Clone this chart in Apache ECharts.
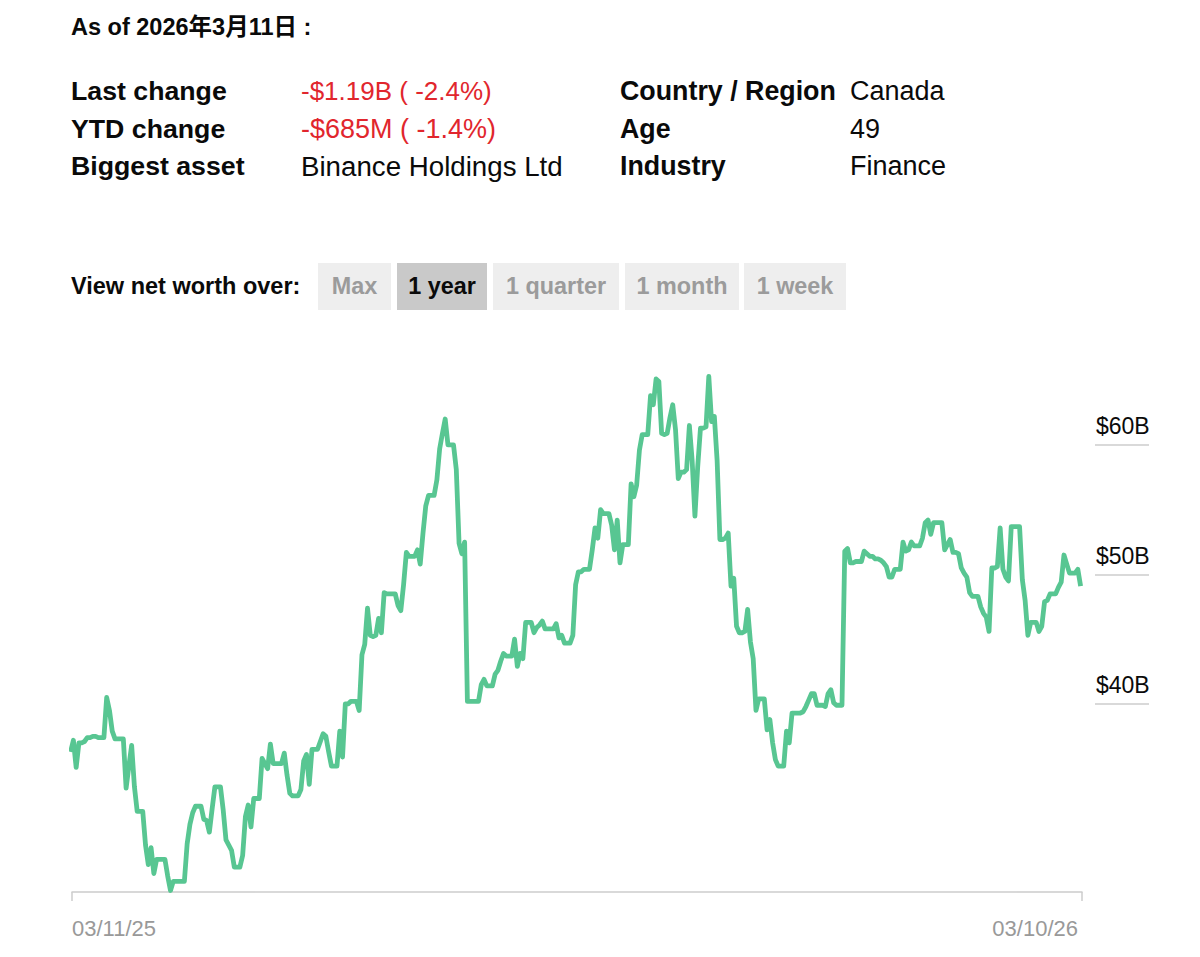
<!DOCTYPE html>
<html>
<head>
<meta charset="utf-8">
<title>Net worth</title>
<style>
html,body{margin:0;padding:0;background:#fff;}
#main{width:1200px;height:957px;}
</style>
<script src="https://cdn.jsdelivr.net/npm/echarts@6/dist/echarts.min.js"></script>
</head>
<body>
<div id="main"></div>
<script>
var asOfText = 'As of 2026年3月11日 :';
var leftLabels = ['Last change', 'YTD change', 'Biggest asset'];
var leftValues = ['-$1.19B ( -2.4%)', '-$685M ( -1.4%)', 'Binance Holdings Ltd'];
var rightLabels = ['Country / Region', 'Age', 'Industry'];
var rightValues = ['Canada', '49', 'Finance'];
var viewLabel = 'View net worth over:';
var rangeLabels = ['Max', '1 year', '1 quarter', '1 month', '1 week'];
var activeRange = '1 year';
var yTicks = [40, 50, 60];
var dateLabels = ['03/11/25', '03/10/26'];
// one value per day, $B
var netWorth = [
    36.3,37.2,35.1,37.0,37.0,37.1,37.4,37.4,37.5,37.5,
    37.4,37.4,37.4,40.5,39.5,37.9,37.3,37.3,37.3,37.3,
    33.5,35.2,36.8,33.6,31.7,31.7,31.7,29.1,27.6,28.9,
    26.9,28.0,28.0,28.0,28.0,26.7,25.6,26.3,26.3,26.3,
    26.3,26.3,29.2,30.7,31.6,32.1,32.1,32.1,31.1,31.0,
    30.1,31.9,33.6,33.6,33.6,31.8,29.5,29.1,28.7,27.4,
    27.4,27.4,28.3,31.3,32.2,30.5,32.7,32.7,32.7,35.8,
    35.4,35.0,36.9,35.4,35.4,35.4,35.4,36.2,34.5,33.1,
    32.9,32.9,32.9,33.4,35.6,36.1,33.8,36.5,36.5,36.5,
    37.1,37.7,37.5,36.3,35.2,35.2,35.2,37.9,35.9,40.0,
    40.0,40.2,40.2,40.2,39.5,43.8,44.6,47.4,45.3,45.2,
    45.3,46.6,45.5,48.6,48.5,48.5,48.5,48.5,47.6,47.2,
    49.2,51.7,51.4,51.4,51.4,51.9,50.8,53.2,55.3,56.1,
    56.1,56.1,57.3,59.7,60.9,62.0,60.0,60.0,60.0,58.1,
    52.4,51.6,52.5,40.2,40.2,40.2,40.2,40.2,41.5,41.9,
    41.4,41.4,41.4,42.3,42.6,43.3,43.9,43.7,43.7,43.7,
    45.0,42.9,43.9,43.5,46.3,46.3,46.3,45.5,45.9,46.1,
    46.4,45.8,45.8,45.8,45.8,46.2,45.1,45.3,44.7,44.7,
    44.7,45.3,49.2,50.2,50.2,50.4,50.4,50.4,51.9,53.6,
    52.8,55.0,54.7,54.7,54.7,53.8,51.9,54.2,50.9,52.3,
    52.3,52.3,57.0,56.0,56.9,59.6,60.8,60.8,60.8,63.8,
    63.1,65.1,64.9,60.9,60.8,60.9,62.1,63.1,61.2,57.4,
    57.9,57.9,58.1,61.5,58.8,54.5,58.3,61.3,61.3,61.4,
    65.3,61.8,62.2,58.8,52.7,52.7,52.8,53.2,49.1,49.7,
    46.0,45.5,45.5,45.6,47.3,44.8,43.5,39.5,40.4,40.4,
    40.4,38.0,38.8,37.0,35.7,35.2,35.2,35.2,37.9,37.0,
    39.3,39.3,39.3,39.3,39.4,39.8,40.3,40.8,40.8,39.9,
    39.9,39.9,39.8,40.8,41.1,40.1,39.9,39.9,39.9,51.8,
    52.0,50.9,50.9,51.0,51.0,51.0,51.8,51.6,51.4,51.4,
    51.2,51.2,51.1,50.9,50.6,49.8,49.8,50.4,50.4,50.4,
    52.5,51.8,51.9,52.5,52.2,52.2,52.2,52.8,54.0,54.2,
    53.1,54.0,54.0,54.0,54.0,51.9,52.3,52.7,51.7,51.7,
    51.6,50.5,50.1,49.8,48.6,48.3,48.3,48.3,47.5,47.0,
    46.7,45.6,50.5,50.5,50.6,53.6,50.4,49.8,49.5,53.7,
    53.7,53.7,53.7,49.6,48.0,45.3,46.3,46.3,46.3,45.6,
    46.0,47.9,48.0,48.5,48.5,48.5,49.0,49.4,51.5,50.8,
    50.1,50.1,50.1,50.4,49.1
];

var FONT = "'Liberation Sans','Noto Sans CJK SC',sans-serif";
var INK = '#0a0a0a';
var RED = '#e1262d';
var GREEN = '#58c692';
var RULE = '#cccccc';

function label(text, x, y, size, bold, color) {
    return {
        type: 'text',
        x: x,
        y: y,
        silent: true,
        style: {
            text: text,
            fill: color || INK,
            font: (bold ? 'bold ' : '') + size + 'px ' + FONT,
            textVerticalAlign: 'middle'
        }
    };
}

var graphics = [label(asOfText, 71, 27, 23.5, true)];
var rowY = [91, 129, 166];
// the reference font runs tighter on the 1s, so each row gets its own size
var leftValueSize = [26, 27, 27.7];
for (var i = 0; i < rowY.length; i++) {
    graphics.push(label(leftLabels[i], 71, rowY[i], 26.7, true));
    // the first two rows are the red changes
    graphics.push(label(leftValues[i], 301, rowY[i], leftValueSize[i], false, i < 2 ? RED : INK));
    graphics.push(label(rightLabels[i], 620, rowY[i], 26.8, true));
    graphics.push(label(rightValues[i], 850, rowY[i], 27, false));
}
graphics.push(label(viewLabel, 71, 286, 23.5, true));

var buttonX = [318, 397, 493, 625, 744];
var buttonW = [73, 90, 126, 114, 102];
for (var j = 0; j < rangeLabels.length; j++) {
    var on = rangeLabels[j] === activeRange;
    graphics.push({
        type: 'rect',
        silent: true,
        shape: {x: buttonX[j], y: 263, width: buttonW[j], height: 47},
        style: {fill: on ? '#c9c9c9' : '#eeeeee'}
    });
    var t = label(rangeLabels[j], buttonX[j] + buttonW[j] / 2, 286, 23.4, true, on ? INK : '#9b9b9b');
    t.style.textAlign = 'center';
    graphics.push(t);
}

var seriesData = [];
for (var k = 0; k < netWorth.length; k++) {
    seriesData.push([k, netWorth[k]]);
}

var myChart = echarts.init(document.getElementById('main'), null, {renderer: 'svg'});
var xEnds = [0.5, 364.5];
myChart.setOption({
    animation: false,
    backgroundColor: '#ffffff',
    textStyle: {fontFamily: FONT},
    grid: {left: 72, right: 118, top: 360, bottom: 65},
    xAxis: {
        type: 'value',
        min: xEnds[0],
        max: xEnds[1],
        splitLine: {show: false},
        axisLine: {show: true, lineStyle: {color: RULE, width: 1.5}},
        axisTick: {show: true, customValues: xEnds, length: 9, lineStyle: {color: RULE, width: 1.5}},
        axisLabel: {
            show: true,
            customValues: xEnds,
            margin: 25,
            fontSize: 22,
            color: '#999999',
            padding: [0, 4, 0, 0],
            alignMinLabel: 'left',
            alignMaxLabel: 'right',
            formatter: function (v) {
                return v === xEnds[0] ? dateLabels[0] : dateLabels[1];
            }
        }
    },
    yAxis: {
        type: 'value',
        position: 'right',
        offset: 13,
        min: 25.48,
        max: 66.56,
        splitLine: {show: false},
        axisLine: {show: false},
        axisTick: {show: true, customValues: yTicks, length: 54, lineStyle: {color: RULE, width: 1.5}},
        axisLabel: {
            show: true,
            customValues: yTicks,
            margin: 1,
            fontSize: 23,
            color: INK,
            verticalAlign: 'bottom',
            padding: [0, 0, 7, 0],
            formatter: '${value}B'
        }
    },
    series: [{
        type: 'line',
        data: seriesData,
        showSymbol: false,
        silent: true,
        lineStyle: {color: GREEN, width: 4.8, join: 'round'}
    }],
    graphic: graphics
});
</script>
</body>
</html>
